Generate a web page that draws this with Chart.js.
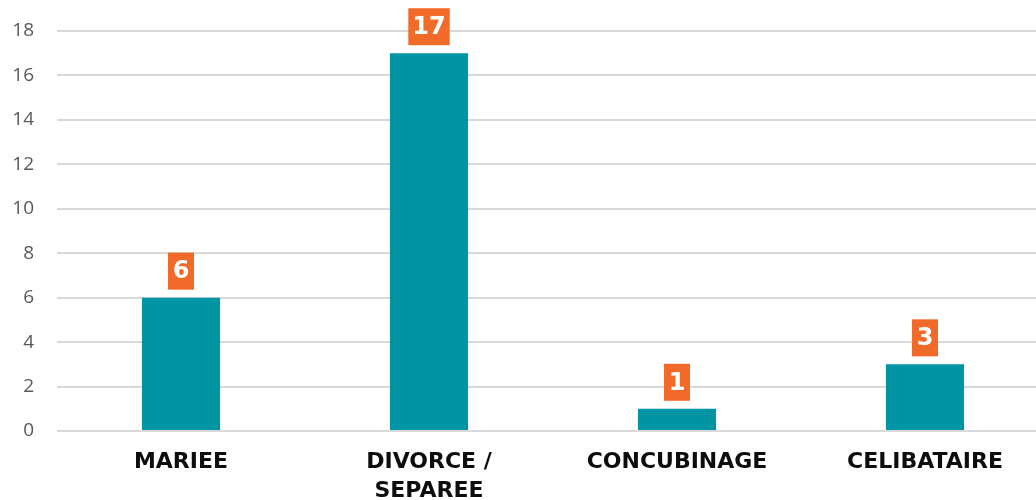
<!DOCTYPE html>
<html lang="fr">
<head>
  <meta charset="UTF-8" />
  <title>Situation familiale</title>
  <script src="https://cdn.jsdelivr.net/npm/chart.js"></script>
  <style>
    html, body { margin: 0; padding: 0; background: #ffffff; overflow: hidden; }
    .wrap { width: 1049px; height: 500px; }
  </style>
</head>
<body>
  <div class="wrap">
    <canvas id="chart"></canvas>
  </div>

<script>
  const categories = ["MARIEE", ["DIVORCE /", "SEPAREE"], "CONCUBINAGE", "CELIBATAIRE"];
  const values = [6, 17, 1, 3];
  const yTicks = [0, 2, 4, 6, 8, 10, 12, 14, 16, 18];

  // orange value boxes above bars
  const valueBoxes = {
    id: "valueBoxes",
    afterDatasetsDraw(chart) {
      const ctx = chart.ctx;
      const meta = chart.getDatasetMeta(0);
      ctx.save();
      ctx.font = "bold 24px 'DejaVu Sans'";
      ctx.textAlign = "center";
      ctx.textBaseline = "middle";
      meta.data.forEach(function (bar, i) {
        const txt = String(values[i]);
        const w = Math.max(ctx.measureText(txt).width + 8, 26);
        const h = 37;
        const bottom = bar.y - 8;
        ctx.fillStyle = "#F26A2A";
        ctx.fillRect(bar.x - w / 2, bottom - h, w, h);
        ctx.fillStyle = "#ffffff";
        ctx.fillText(txt, bar.x, bottom - h / 2 + 1);
      });
      ctx.restore();
    }
  };

  new Chart(document.getElementById("chart"), {
    type: "bar",
    data: {
      labels: categories,
      datasets: [{
        data: values,
        backgroundColor: "#0095A5",
        categoryPercentage: 1,
        barPercentage: 0.315
      }]
    },
    options: {
      responsive: true,
      maintainAspectRatio: false,
      animation: false,
      layout: { padding: { top: 31, right: 0, left: 0, bottom: 0 } },
      plugins: {
        legend: { display: false },
        tooltip: { enabled: false }
      },
      scales: {
        x: {
          grid: { display: false, drawTicks: false },
          border: { display: false },
          ticks: {
            color: "#0d0d0d",
            font: { family: "'DejaVu Sans'", weight: "bold", size: 22, lineHeight: 1.3 },
            padding: 17,
            maxRotation: 0,
            autoSkip: false
          },
          afterFit(scale) { scale.height = 69; }
        },
        y: {
          min: 0,
          max: 18,
          afterBuildTicks(scale) {
            scale.ticks = yTicks.map(function (v) { return { value: v }; });
          },
          grid: { color: "#D9D9D9", lineWidth: 2, drawTicks: false },
          border: { display: false },
          ticks: {
            color: "#595959",
            font: { family: "'Open Sans'", size: 19 },
            padding: 23
          },
          afterFit(scale) {
            scale.width = 57;
            scale.paddingTop = 0;
            scale.paddingBottom = 0;
          }
        }
      }
    },
    plugins: [valueBoxes]
  });
</script>
</body>
</html>
